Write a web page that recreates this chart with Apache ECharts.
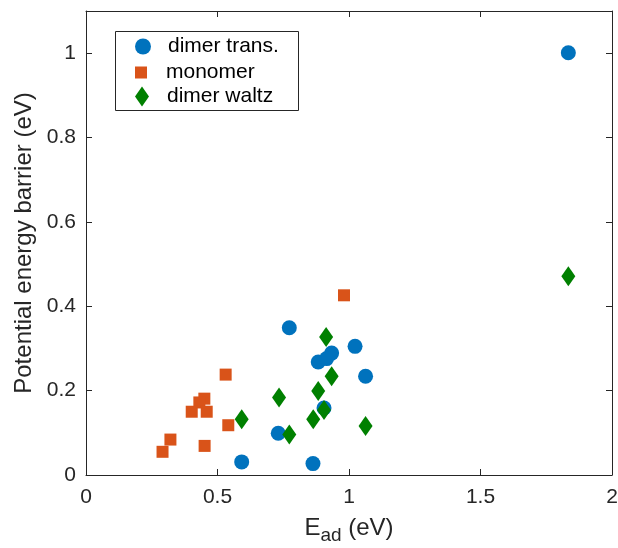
<!DOCTYPE html>
<html>
<head>
<meta charset="utf-8">
<script src="https://cdn.jsdelivr.net/npm/echarts@6/dist/echarts.min.js"></script>
<style>
  html, body { margin: 0; padding: 0; background: #fff; }
  #chart { width: 618px; height: 548px; }
</style>
</head>
<body>
<div id="chart"></div>
<script>
// Adsorption energy (eV) vs. potential energy barrier (eV) for each mechanism
const dimerTransX = [0.773, 1.023, 0.934, 0.883, 0.915, 1.063, 0.905, 0.731, 0.592, 0.863, 1.834];
const dimerTransY = [0.349, 0.305, 0.289, 0.268, 0.276, 0.234, 0.159, 0.099, 0.031, 0.027, 1.001];

const monomerX = [0.981, 0.531, 0.450, 0.431, 0.402, 0.459, 0.541, 0.321, 0.291, 0.451];
const monomerY = [0.426, 0.238, 0.181, 0.172, 0.150, 0.150, 0.118, 0.084, 0.055, 0.069];

const dimerWaltzX = [0.913, 0.934, 0.883, 0.734, 0.905, 0.864, 0.592, 0.773, 1.063, 1.834];
const dimerWaltzY = [0.327, 0.234, 0.199, 0.184, 0.154, 0.132, 0.132, 0.096, 0.116, 0.471];

const seriesNames = ['dimer trans.', 'monomer', 'dimer waltz'];
const xTicks = { min: 0, max: 2, interval: 0.5 };
const yTicks = { min: 0, max: 1.1, interval: 0.2 };

const pairs = (xs, ys) => xs.map((x, i) => [x, ys[i]]);

const FONT = '"Liberation Sans", Arial, Helvetica, sans-serif';
const INK = '#262626';
const COLORS = ['#0072BD', '#D95319', '#008000'];

const SQUARE_PATH = 'path://M0,0L10,0L10,10L0,10Z';
const DIAMOND_PATH = 'path://M7,0L14,10L7,20L0,10Z';

const tickStyle = { show: true, inside: true, length: 6, lineStyle: { color: INK, width: 1 } };
const lineStyle = { show: true, onZero: false, lineStyle: { color: INK, width: 1 } };

const chart = echarts.init(document.getElementById('chart'), null, { renderer: 'canvas' });

// one legend row per series so each icon keeps its own size
function legendRow(name, icon, itemHeight, centerY) {
  return {
    data: [{ name: name, icon: icon }],
    orient: 'vertical',
    left: 135,
    top: centerY - itemHeight / 2,
    padding: 0,
    itemWidth: 40,
    itemHeight: itemHeight,
    selectedMode: false,
    z: 20,
    textStyle: { fontFamily: FONT, fontSize: 21, color: '#000', lineHeight: itemHeight }
  };
}

chart.setOption({
  backgroundColor: '#fff',
  animation: false,
  graphic: [{
    type: 'rect',
    left: 115, top: 31,
    shape: { width: 183, height: 79 },
    style: { fill: '#fff', stroke: INK, lineWidth: 1 },
    z: 10
  }],
  legend: [
    legendRow(seriesNames[0], 'circle', 16, 44),
    legendRow(seriesNames[1], SQUARE_PATH, 12, 68),
    legendRow(seriesNames[2], DIAMOND_PATH, 20, 96)
  ],
  grid: { left: 86, right: 6, top: 11, bottom: 73, containLabel: false, outerBoundsMode: 'none' },
  xAxis: [{
    type: 'value',
    min: xTicks.min, max: xTicks.max, interval: xTicks.interval,
    position: 'bottom',
    splitLine: { show: false },
    axisLine: lineStyle,
    axisTick: tickStyle,
    axisLabel: { color: INK, fontFamily: FONT, fontSize: 21, margin: 12 },
    name: '{m|E}{s|ad}{m| (eV)}',
    nameLocation: 'middle',
    nameGap: 36,
    nameTextStyle: {
      rich: {
        m: { fontFamily: FONT, fontSize: 24, color: INK },
        s: { fontFamily: FONT, fontSize: 19, color: INK, padding: [15, 0, 0, 0] }
      }
    }
  }, {
    type: 'value',
    min: xTicks.min, max: xTicks.max, interval: xTicks.interval,
    position: 'top',
    splitLine: { show: false },
    axisLine: lineStyle,
    axisTick: tickStyle,
    axisLabel: { show: false }
  }],
  yAxis: [{
    type: 'value',
    min: yTicks.min, max: yTicks.max, interval: yTicks.interval,
    position: 'left',
    splitLine: { show: false },
    axisLine: lineStyle,
    axisTick: tickStyle,
    axisLabel: { color: INK, fontFamily: FONT, fontSize: 21, margin: 10, showMaxLabel: false },
    name: 'Potential energy barrier (eV)',
    nameLocation: 'middle',
    nameGap: 50,
    nameTextStyle: { fontFamily: FONT, fontSize: 24, color: INK }
  }, {
    type: 'value',
    min: yTicks.min, max: yTicks.max, interval: yTicks.interval,
    position: 'right',
    splitLine: { show: false },
    axisLine: lineStyle,
    axisTick: tickStyle,
    axisLabel: { show: false }
  }],
  series: [{
    name: seriesNames[0],
    type: 'scatter',
    symbol: 'circle',
    symbolSize: 15,
    itemStyle: { color: COLORS[0], opacity: 1 },
    data: pairs(dimerTransX, dimerTransY)
  }, {
    name: seriesNames[1],
    type: 'scatter',
    symbol: 'rect',
    symbolSize: 12,
    itemStyle: { color: COLORS[1], opacity: 1 },
    data: pairs(monomerX, monomerY)
  }, {
    name: seriesNames[2],
    type: 'scatter',
    symbol: 'diamond',
    symbolSize: [14, 20],
    itemStyle: { color: COLORS[2], opacity: 1 },
    data: pairs(dimerWaltzX, dimerWaltzY)
  }]
});
</script>
</body>
</html>
